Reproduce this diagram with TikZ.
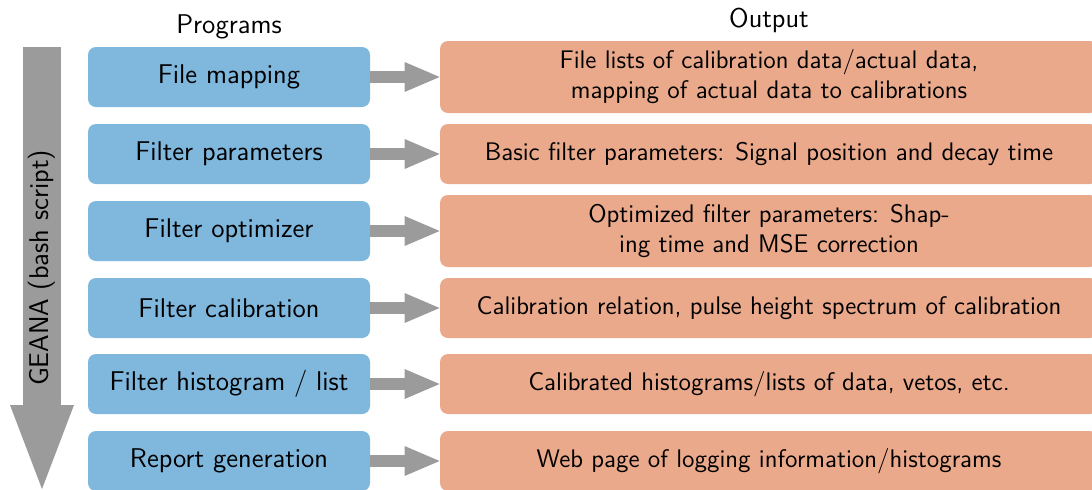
\documentclass[tikz,border=0pt]{standalone}
\usetikzlibrary{arrows.meta}
\definecolor{progblue}{HTML}{7FB7DD}
\definecolor{outorange}{HTML}{EBA98C}
\definecolor{flowgray}{HTML}{9B9B9B}
\begin{document}
\begin{tikzpicture}[x=0.5pt,y=-0.5pt,
  bigfont/.style={font=\fontsize{13.55}{16}\selectfont\sffamily},
  prog/.style={bigfont, fill=progblue, rounded corners=4pt, inner sep=0pt,
    minimum width=141pt, minimum height=30pt},
  outbox/.style={fill=outorange, rounded corners=4pt, inner sep=0pt,
    minimum width=329pt, minimum height=30pt, align=center,
    font=\fontsize{12.72}{15}\selectfont\sffamily},
  twoline/.style={minimum height=36pt},
  flow/.style={draw=flowgray, line width=6pt,
    -{Triangle[width=15pt,length=17.5pt,line width=0pt]}},
  header/.style={bigfont, anchor=base}]
\useasboundingbox (0,0) rectangle (1092,489);
\clip (0,0) rectangle (1092,489);

% column headers
\node[header] (hprog) at (229,33) {Programs};
\node[header] (hout) at (769,27) {Output};

% overall flow of the bash script
\coordinate (gtop) at (42,47);
\coordinate (gbot) at (42,489);
\draw[flowgray, line width=19pt,
  -{Triangle[width=32pt,length=42pt,line width=0pt]}] (gtop) -- (gbot);
\node[bigfont, rotate=90] (geana) at (42,268) {GEANA (bash script)};

% programs
\node[prog] (p1) at (229,77)  {File mapping};
\node[prog] (p2) at (229,154) {Filter parameters};
\node[prog] (p3) at (229,231) {Filter optimizer};
\node[prog] (p4) at (229,308) {Filter calibration};
\node[prog] (p5) at (229,384) {Filter histogram / list};
\node[prog] (p6) at (229,461) {Report generation};

% outputs
\node[outbox, twoline] (o1) at (769,77)
  {File lists of calibration data/actual data,\\mapping of actual data to calibrations};
\node[outbox] (o2) at (769,154)
  {Basic filter parameters: Signal position and decay time};
\node[outbox, twoline] (o3) at (769,231)
  {Optimized filter parameters: Shap-\\ing time and MSE correction};
\node[outbox] (o4) at (769,308)
  {Calibration relation, pulse height spectrum of calibration};
\node[outbox] (o5) at (769,384)
  {Calibrated histograms/lists of data, vetos, etc.};
\node[outbox] (o6) at (769,461)
  {Web page of logging information/histograms};

% program -> output
\foreach \i in {1,...,6} \draw[flow] (p\i) -- (o\i);
\end{tikzpicture}
\end{document}
